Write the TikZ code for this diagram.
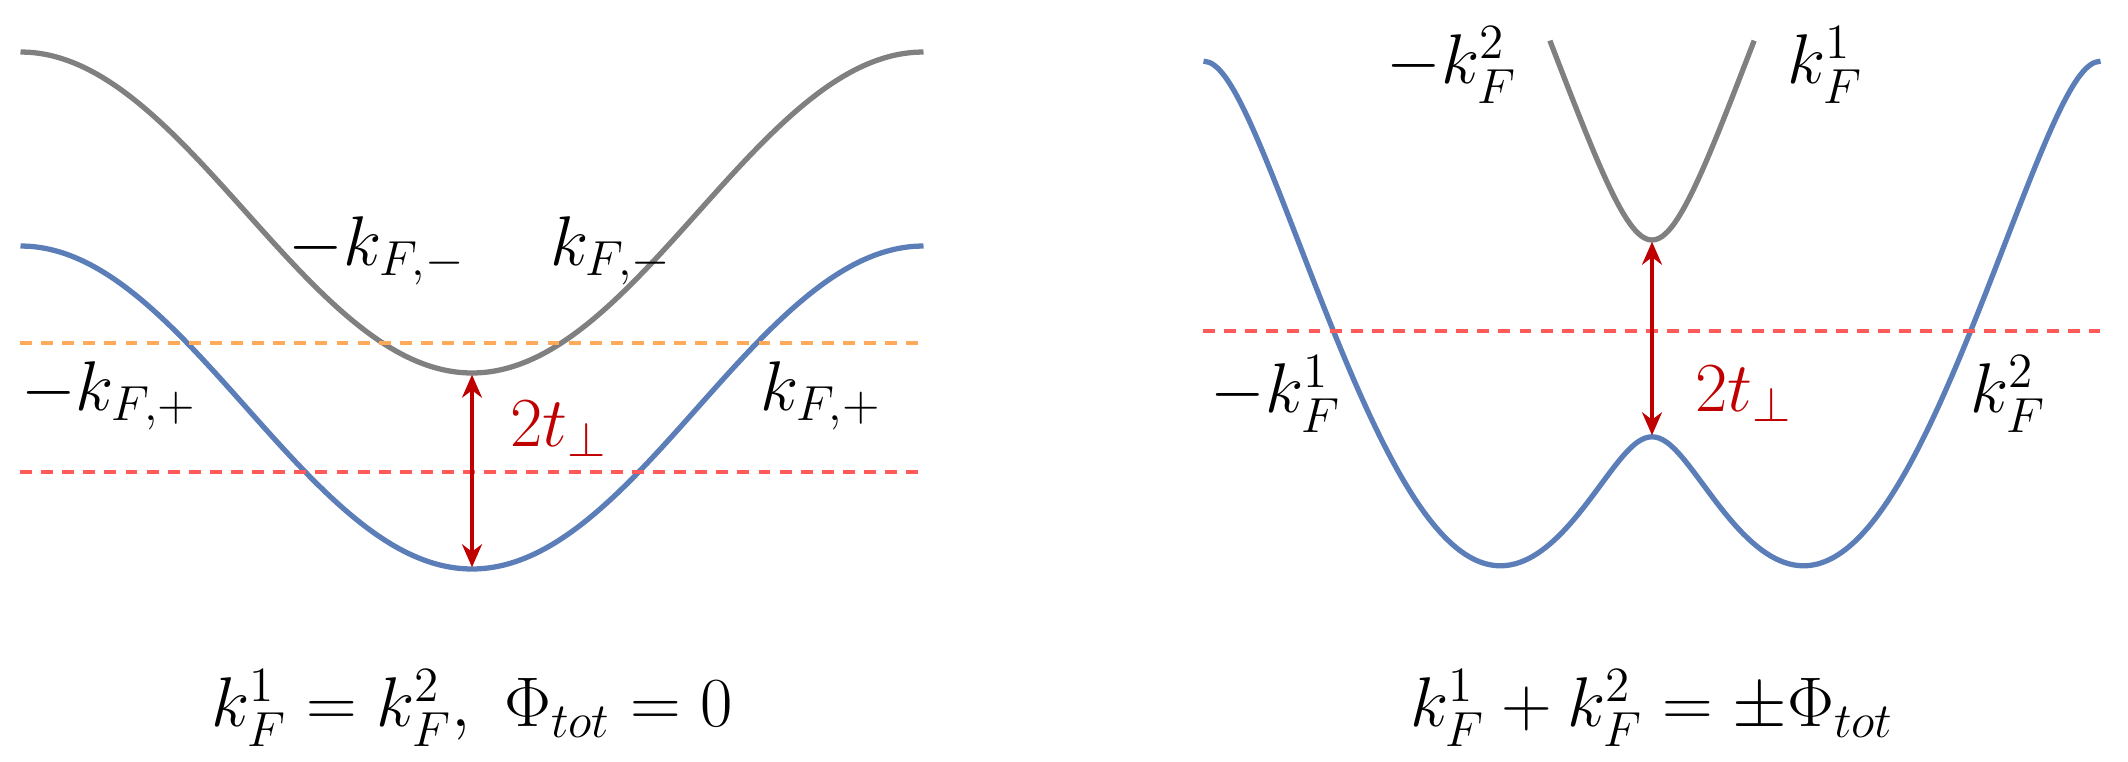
\RequirePackage{fix-cm}
\documentclass[tikz,border=0pt]{standalone}
\usepackage{amsmath, amssymb}
\usetikzlibrary{arrows.meta}

\definecolor{bandgray}{RGB}{128,128,128}
\definecolor{bandblue}{RGB}{92,126,184}
\definecolor{fermiorange}{RGB}{255,170,90}
\definecolor{fermired}{RGB}{255,90,90}
\definecolor{gapred}{RGB}{192,0,0}

\begin{document}
\begin{tikzpicture}[x=0.01cm, y=-0.01cm,
  band/.style={line width=1.5pt},
  fermi/.style={line width=1.2pt, dash pattern=on 3.4pt off 2.6pt},
  gap/.style={gapred, line width=0.9pt, {Stealth[length=2.3mm, width=2mm]}-{Stealth[length=2.3mm, width=2mm]}, shorten <=0.5pt, shorten >=0.5pt},
  lbl/.style={font=\fontsize{20}{24}\selectfont},
  declare function={lo(\k)=-0.4695*cos(\k)-sqrt(0.7795*sin(\k)^2+0.0605);
                    up(\k)=-0.4695*cos(\k)+sqrt(0.7795*sin(\k)^2+0.0605);}]
\useasboundingbox (0,0) rectangle (2128,762);

% left: Phi_tot = 0
\draw[band, bandgray] plot[domain=-180:180, samples=90, smooth] ({472+2.5083*\x}, {212.5+160.5*cos(\x)});
\draw[band, bandblue] plot[domain=-180:180, samples=90, smooth] ({472+2.5083*\x}, {407.5+161.5*cos(\x)});
\coordinate (gmin1) at (472,373);
\coordinate (bmin1) at (472,569);
\coordinate (ol) at (20,343);
\coordinate (or) at (923,343);
\coordinate (rl) at (20,472);
\coordinate (rr) at (923,472);
\draw[fermi, fermiorange] (ol) -- (or);
\draw[fermi, fermired] (rl) -- (rr);
\draw[gap] (bmin1) -- (gmin1);

\node (kmm) [lbl] at (377,251) {$-k_{F,-}$};
\node (kpm) [lbl] at (611,251) {$k_{F,-}$};
\node (kmp) [lbl] at (109,396) {$-k_{F,+}$};
\node (kpp) [lbl] at (821,396) {$k_{F,+}$};
\node (gap1) [lbl, gapred] at (559,429) {$2t_\perp$};
\node (cap1) [lbl] at (472,708) {$k_F^1=k_F^2,\ \Phi_{tot}=0$};

% right: k_F^1 + k_F^2 = +-Phi_tot
\draw[band, bandblue] plot[domain=-180:180, samples=121, smooth] ({1652+2.4917*\x}, {150.6-400*lo(\x)});
\draw[band, bandgray] plot[domain=-41:41, samples=41, smooth] ({1652+2.4917*\x}, {150.6-400*up(\x)});
\coordinate (gmin2) at (1652,240);
\coordinate (bmax2) at (1652,437);
\coordinate (fl) at (1203,331);
\coordinate (fr) at (2100,331);
\draw[fermi, fermired] (fl) -- (fr);
\draw[gap] (bmax2) -- (gmin2);

\node (km2) [lbl] at (1452,65) {$-k_F^2$};
\node (kp1) [lbl] at (1825,65) {$k_F^1$};
\node (km1) [lbl] at (1276,394) {$-k_F^1$};
\node (kp2) [lbl] at (2008,394) {$k_F^2$};
\node (gap2) [lbl, gapred] at (1744,394) {$2t_\perp$};
\node (cap2) [lbl] at (1652,708) {$k_F^1+k_F^2=\pm\Phi_{tot}$};
\end{tikzpicture}
\end{document}
